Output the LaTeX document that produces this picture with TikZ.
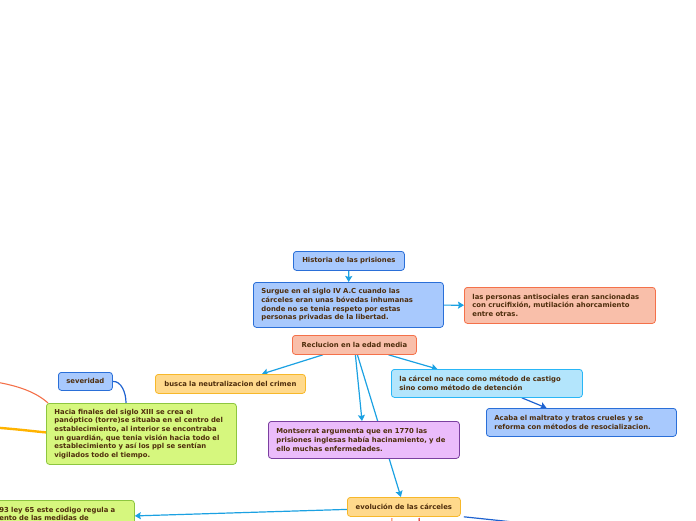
\documentclass[tikz,border=0pt]{standalone}
\usepackage{fontspec}
\setmainfont{DejaVu Sans}
\usetikzlibrary{arrows.meta,backgrounds,calc}
\definecolor{txt}{HTML}{4E2D0C}
\definecolor{blufill}{HTML}{A8C9FD}
\definecolor{bluline}{HTML}{2A6FD8}
\definecolor{salfill}{HTML}{F9BFAA}
\definecolor{salline}{HTML}{F4714A}
\definecolor{yelfill}{HTML}{FFD98C}
\definecolor{yelline}{HTML}{F7B82A}
\definecolor{cyafill}{HTML}{B3E5FC}
\definecolor{cyaline}{HTML}{29B6F6}
\definecolor{purfill}{HTML}{EBBCFB}
\definecolor{purline}{HTML}{7B3FA0}
\definecolor{grnfill}{HTML}{D6F77E}
\definecolor{grnline}{HTML}{8DC63F}
\definecolor{conncol}{HTML}{1BA1E2}
\definecolor{darkconn}{HTML}{1E62D0}
\definecolor{orgcurve}{HTML}{FFB300}
\begin{document}
\begin{tikzpicture}[x=1pt,y=-1pt,
  box/.style={rounded corners=3pt, line width=0.8pt, text=txt,
    font=\bfseries\fontsize{6.85}{8.7}\selectfont, inner xsep=8pt, inner ysep=0pt,
    anchor=north west, align=left},
  single/.style={inner xsep=4pt, align=center},
  bluebox/.style={box, fill=blufill, draw=bluline},
  salbox/.style={box, fill=salfill, draw=salline},
  yelbox/.style={box, fill=yelfill, draw=yelline},
  cyabox/.style={box, fill=cyafill, draw=cyaline},
  purbox/.style={box, fill=purfill, draw=purline},
  grnbox/.style={box, fill=grnfill, draw=grnline},
  conn/.style={line width=1.2pt, draw=conncol, -{Stealth[length=6pt,width=7pt,inset=1pt]}},
  darkconn/.style={conn, draw=darkconn},
]
\useasboundingbox (0,0) rectangle (696,520);

\node[bluebox, single, text width=103pt, minimum height=19pt] (historia) at (293,251) {Historia de las prisiones};
\node[bluebox, text width=174pt, minimum height=45pt] (surgue) at (253,282)
  {Surgue en el siglo IV A.C cuando las\\c\'arceles eran unas b\'ovedas inhumanas\\donde no se tenia respeto por estas\\personas privadas de la libertad.};
\node[salbox, text width=175pt, minimum height=36pt] (personas) at (464,287)
  {las personas antisociales eran sancionadas\\con crucifixi\'on, mutilaci\'on ahorcamiento\\entre otras.};
\node[salbox, single, text width=116pt, minimum height=19pt] (reclucion) at (292,335) {Reclucion en la edad media};
\node[yelbox, single, text width=142pt, minimum height=19pt] (busca) at (155,374) {busca la neutralizacion del crimen};
\node[cyabox, text width=175pt, minimum height=28pt] (carcel) at (391,369)
  {la c\'arcel no nace como m\'etodo de castigo\\sino como m\'etodo de detenci\'on};
\node[bluebox, text width=174pt, minimum height=28pt] (acaba) at (486,408)
  {Acaba el maltrato y tratos crueles y se\\reforma con m\'etodos de resocializacion.};
\node[purbox, text width=175pt, minimum height=37pt] (montserrat) at (268,421)
  {Montserrat argumenta que en 1770 las\\prisiones inglesas hab\'ia hacinamiento, y de\\ello muchas enfermedades.};
\node[yelbox, single, text width=105pt, minimum height=19pt] (evol) at (347,497) {evoluci\'on de las c\'arceles};
\node[bluebox, single, text width=46pt, minimum height=18pt] (sev) at (58,372) {severidad};
\node[grnbox, text width=174pt, minimum height=61pt] (hacia) at (46,403)
  {Hacia finales del siglo XIII se crea el\\pan\'optico (torre)se situaba en el centro del\\establecimiento, al interior se encontraba\\un guardi\'an, que tenia visi\'on hacia todo el\\establecimiento y as\'i los ppl se sent\'ian\\vigilados todo el tiempo.};
\node[grnbox, text width=127pt, minimum height=27pt] (ley) at (-9,500)
  {93 ley 65 este codigo regula a\\ento de las medidas de};

\coordinate (offright) at (580,529);
\coordinate (offleftA) at (-20,380);
\coordinate (offleftB) at (-30,426);
\coordinate (stubAa) at (392,518);
\coordinate (stubAb) at (391,530);
\coordinate (stubBa) at (419,518);
\coordinate (stubBb) at (420,530);

\begin{scope}[on background layer]
  \draw[conn] (historia) -- (surgue);
  \draw[conn] (surgue) -- (personas);
  \draw[conn] (reclucion) -- (busca);
  \draw[conn] (reclucion) -- (carcel);
  \draw[conn] (reclucion) -- (montserrat);
  \draw[conn] (reclucion) -- (evol);
  \draw[darkconn] (carcel) -- (acaba);
  \draw[conn] ([yshift=-2.5pt]evol.west) -- ([yshift=-2pt]ley.east);
  \draw[line width=1.2pt, draw=darkconn] ([xshift=3pt]evol.south east) -- (offright);
  \draw[line width=1.2pt, draw=darkconn] (sev.east) .. controls (121,381) and (126,392) .. ([xshift=80pt]hacia.north west);
  \draw[line width=1.1pt, draw=salline] (offleftA) .. controls (20,384) and (38,394) .. ([xshift=2pt]hacia.north west);
  \draw[line width=2.4pt, draw=orgcurve] (offleftB) .. controls (10,428) and (30,431) .. ([yshift=1.5pt]hacia.west);
  \draw[line width=1pt, draw=salline] (stubAa) -- (stubAb);
  \draw[line width=1pt, draw=red!85!black] (stubBa) -- (stubBb);
\end{scope}
\end{tikzpicture}
\end{document}
